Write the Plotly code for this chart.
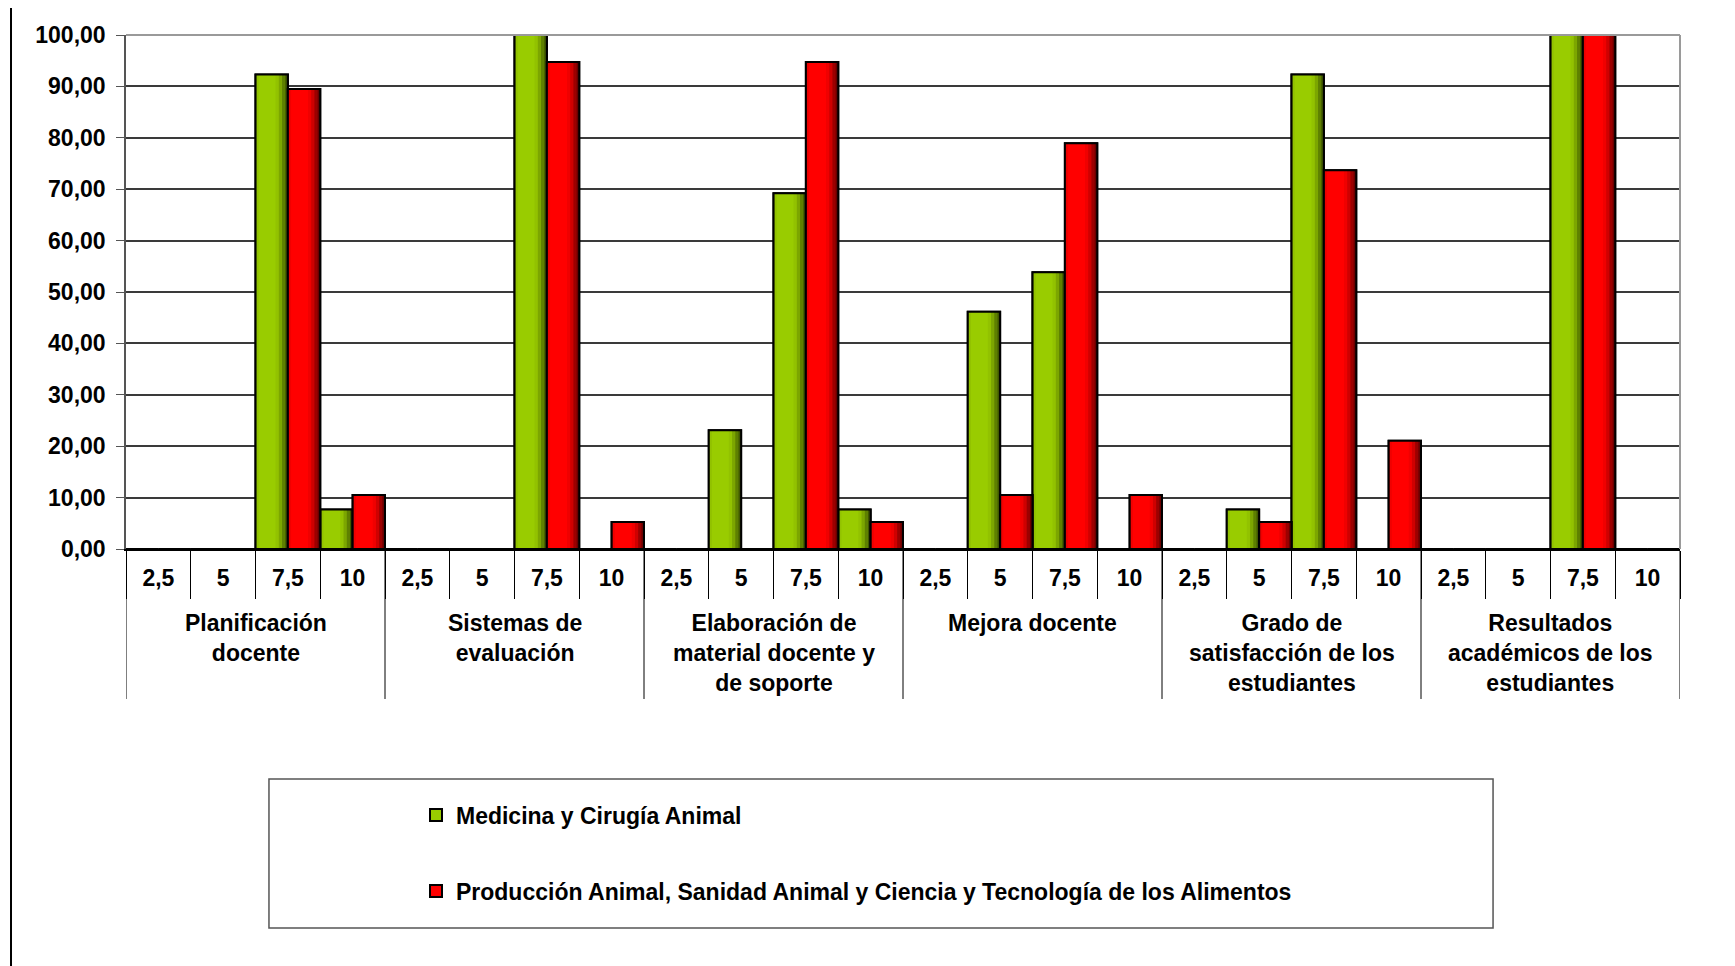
import plotly.graph_objects as go

# Criteria (outer level) and score levels (inner level)
CATEGORIES = [
    "Planificación<br>docente",
    "Sistemas de<br>evaluación",
    "Elaboración de<br>material docente y<br>de soporte",
    "Mejora docente",
    "Grado de<br>satisfacción de los<br>estudiantes",
    "Resultados<br>académicos de los<br>estudiantes",
]
SCORES = ["2,5", "5", "7,5", "10"]

# % of answers per score, one row of 4 per criterion
MEDICINA = [
    0, 0, 92.31, 7.69,
    0, 0, 100.0, 0,
    0, 23.08, 69.23, 7.69,
    0, 46.15, 53.85, 0,
    0, 7.69, 92.31, 0,
    0, 0, 100.0, 0,
]
PRODUCCION = [
    0, 0, 89.47, 10.53,
    0, 0, 94.74, 5.26,
    0, 0, 94.74, 5.26,
    0, 10.53, 78.95, 10.53,
    0, 5.26, 73.68, 21.05,
    0, 0, 100.0, 0,
]

SERIES = [
    ("Medicina y Cirugía Animal", MEDICINA, -0.5,
     ["#405800", "#5e8000", "#7ca600", "#92c200", "#99cc00"]),
    ("Producción Animal, Sanidad Animal y Ciencia y Tecnología de los Alimentos", PRODUCCION, 0.0,
     ["#6a0000", "#9c0000", "#cf0000", "#f00000", "#ff0000"]),
]

# shading strips inside each bar: (start, end) as fraction of the bar width
STRIPS = [(0.0, 1.0), (0.0, 0.92), (0.0, 0.82), (0.04, 0.72), (0.1, 0.62)]
BAR_W = 0.5

n_sub = len(SCORES)
pos = list(range(len(CATEGORIES) * n_sub))
tick_text = [s for _ in CATEGORIES for s in SCORES]

FONT = "Liberation Sans, Arial, sans-serif"
BOLD = dict(family=FONT, size=23, color="black", weight="bold")

fig = go.Figure()

for i, (name, values, off, shades) in enumerate(SERIES):
    # legend entry (hidden under the shading)
    fig.add_trace(go.Bar(
        x=pos, y=values, name=name, offset=off, width=BAR_W,
        marker=dict(color=shades[-1], line=dict(color="black", width=2)),
        legendgroup=f"g{i}", hoverinfo="skip"
    ))
    for (a, b), col in zip(STRIPS, shades):
        fig.add_trace(go.Bar(
            x=pos, y=values, offset=off + a * BAR_W, width=(b - a) * BAR_W,
            marker=dict(color=col, line=dict(width=0)),
            showlegend=False, hoverinfo="skip"
        ))
    # black outline on top
    fig.add_trace(go.Bar(
        x=pos, y=values, name=name, offset=off, width=BAR_W,
        marker=dict(color="rgba(0,0,0,0)", line=dict(color="black", width=2)),
        showlegend=False,
        hovertemplate="%{y:.2f}<extra></extra>"
    ))

fig.update_layout(
    # page body adds 8px, so the figure is 8px smaller than the window
    width=1727, height=958, autosize=False,
    margin=dict(l=118, r=55, t=27, b=417),
    paper_bgcolor="white", plot_bgcolor="white",
    barmode="overlay",
    separators=",.",
    font=dict(family=FONT, size=23, color="black"),
    showlegend=True,
    legend=dict(
        x=0.1866, y=-0.476, xanchor="left", yanchor="top",
        traceorder="grouped", tracegroupgap=43,
        font=BOLD,
        bgcolor="rgba(0,0,0,0)", borderwidth=0,
    ),
)

fig.update_yaxes(
    range=[0, 100], dtick=10, tickformat=".2f",
    showgrid=True, gridcolor="#3a3a3a", gridwidth=1.5,
    showline=True, linecolor="#555555", linewidth=1.5,
    ticks="outside", ticklen=8, tickcolor="#555555",
    ticklabelstandoff=6,
    tickfont=BOLD,
    zeroline=False,
)

fig.update_xaxes(
    range=[-0.5, len(pos) - 0.5],
    tickmode="array", tickvals=pos, ticktext=tick_text,
    ticks="", ticklabelstandoff=7,
    tickfont=BOLD,
    showline=True, linecolor="black", linewidth=2,
    showgrid=False, zeroline=False,
    minor=dict(
        tickmode="array", tickvals=[p - 0.5 for p in pos] + [len(pos) - 0.5],
        ticks="outside", ticklen=48, tickcolor="black", tickwidth=1, showgrid=False,
    ),
)

# criteria labels and their dividers under the score labels
for g, cat in enumerate(CATEGORIES):
    fig.add_annotation(
        x=g * n_sub + (n_sub - 1) / 2, xref="x", y=-0.1148, yref="paper",
        text=cat, showarrow=False, xanchor="center", yanchor="top", align="center",
        font=BOLD,
    )
for g in range(len(CATEGORIES) + 1):
    fig.add_shape(type="line", xref="x", yref="paper",
                  x0=g * n_sub - 0.5, x1=g * n_sub - 0.5, y0=0, y1=-0.2918,
                  line=dict(color="black", width=1))

# grey plot frame on top and right
fig.add_shape(type="line", xref="paper", yref="paper", x0=0, x1=1, y0=1, y1=1,
              line=dict(color="#9a9a9a", width=2))
fig.add_shape(type="line", xref="paper", yref="paper", x0=1, x1=1, y0=0, y1=1,
              line=dict(color="#9a9a9a", width=2))

# legend box
fig.add_shape(type="rect", xref="paper", yref="paper",
              x0=0.0920, x1=0.8797, y0=-0.4475, y1=-0.7374,
              line=dict(color="#555555", width=1.5), layer="below")

# outer chart frame (top and left edges visible)
fig.add_shape(type="line", xref="paper", yref="paper", x0=-0.074, x1=1.06, y0=1.0593, y1=1.0593,
              line=dict(color="black", width=2))
fig.add_shape(type="line", xref="paper", yref="paper", x0=-0.074, x1=-0.074, y0=1.0593, y1=-0.85,
              line=dict(color="black", width=2))

fig.write_html("out.html")
